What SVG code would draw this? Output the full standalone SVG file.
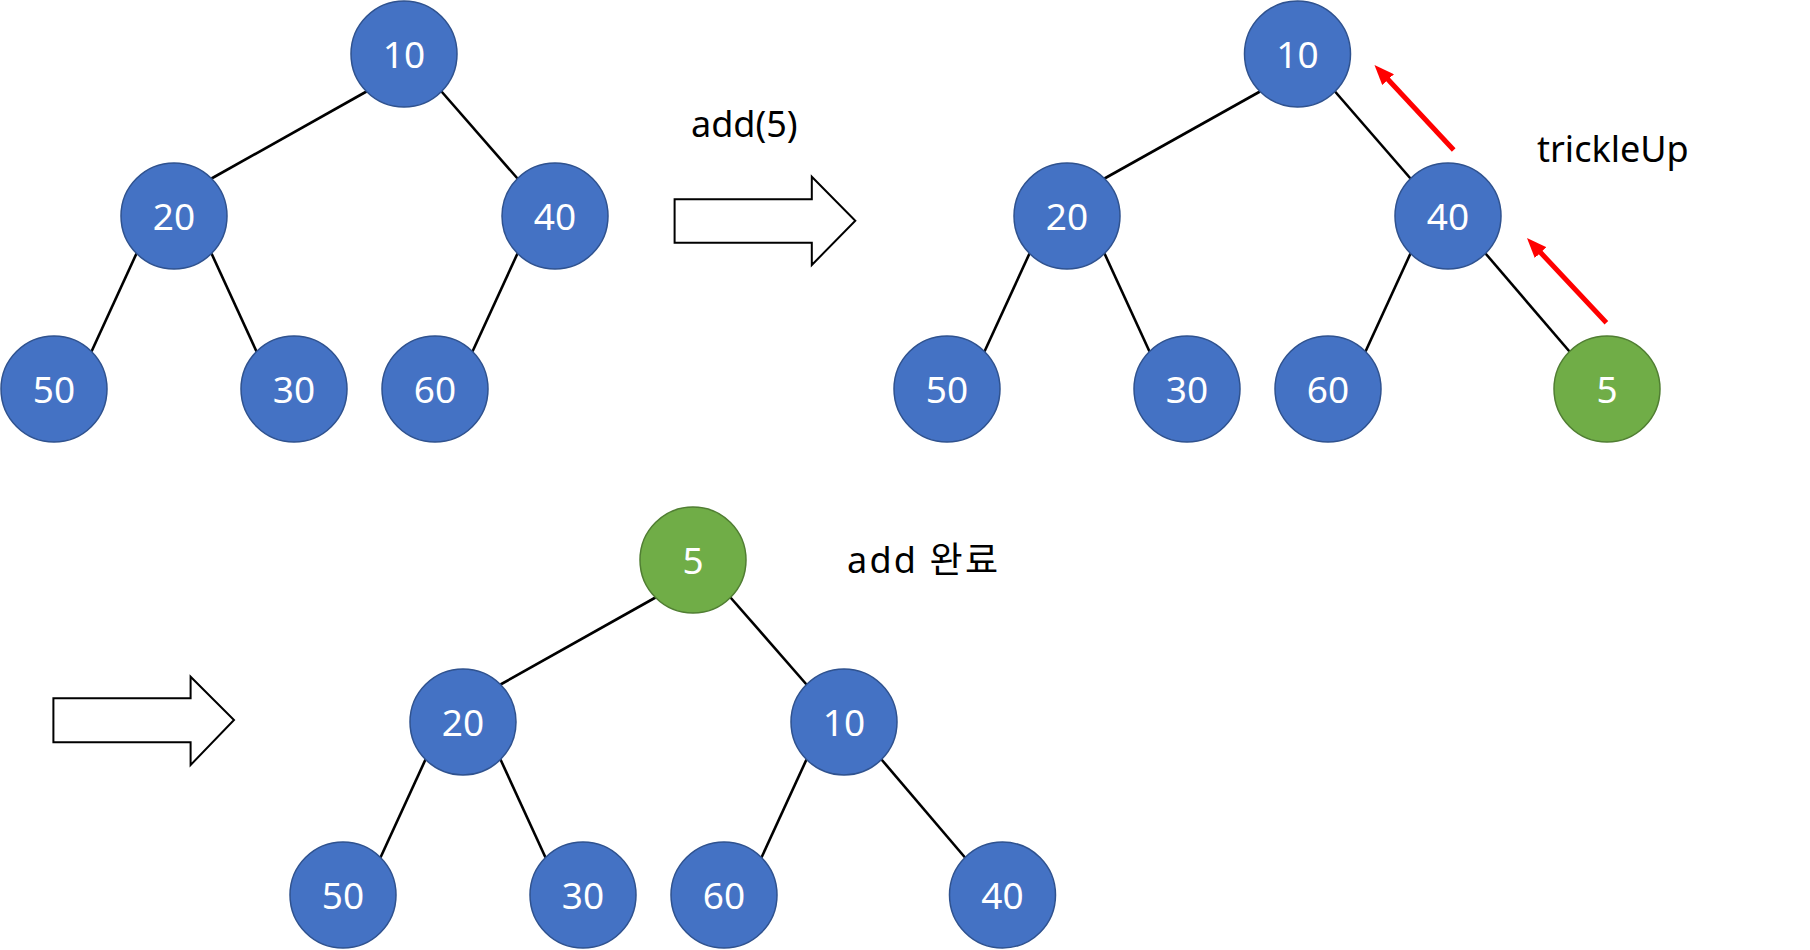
<svg xmlns="http://www.w3.org/2000/svg" width="1810" height="950" viewBox="0 0 1810 950">
<style>
.n{fill:#4472C4;stroke:#2F528F;stroke-width:1.5}
.g{fill:#70AD47;stroke:#507E32;stroke-width:1.5}
.t{fill:#fff;font-family:"Noto Sans","Liberation Sans",sans-serif;font-size:37px;text-anchor:middle}
.e{stroke:#000;stroke-width:2.6;fill:none}
.lbl{fill:#000;font-family:"Noto Sans","Noto Sans CJK KR",sans-serif;font-size:36px}
.ha{fill:#fff;stroke:#000;stroke-width:2}
.ra{stroke:#FF0000;stroke-width:5;fill:none;marker-end:url(#rh)}
</style>
<defs>
<marker id="rh" markerUnits="userSpaceOnUse" viewBox="0 0 20 16" markerWidth="20" markerHeight="16" refX="10" refY="8" orient="auto">
<path d="M0,0 L20,8 L0,16 z" fill="#FF0000"/>
</marker>
</defs>
<rect width="1810" height="950" fill="#fff"/>
<g id="connectors">
<line class="e" x1="366.5" y1="91.5" x2="211.5" y2="178.5"/>
<line class="e" x1="441.5" y1="91.5" x2="517.5" y2="178.5"/>
<line class="e" x1="136.5" y1="253.5" x2="91.5" y2="351.5"/>
<line class="e" x1="211.5" y1="253.5" x2="256.5" y2="351.5"/>
<line class="e" x1="517.5" y1="253.5" x2="472.5" y2="351.5"/>
<line class="e" x1="1260" y1="91.5" x2="1104.5" y2="178.5"/>
<line class="e" x1="1335" y1="91.5" x2="1410.5" y2="178.5"/>
<line class="e" x1="1029.5" y1="253.5" x2="984.5" y2="351.5"/>
<line class="e" x1="1104.5" y1="253.5" x2="1149.5" y2="351.5"/>
<line class="e" x1="1410.5" y1="253.5" x2="1365.5" y2="351.5"/>
<line class="e" x1="1485.5" y1="253.5" x2="1569.5" y2="351.5"/>
<line class="e" x1="655.5" y1="597.5" x2="500.5" y2="684.5"/>
<line class="e" x1="730.5" y1="597.5" x2="806.5" y2="684.5"/>
<line class="e" x1="425.5" y1="759.5" x2="380.5" y2="857.5"/>
<line class="e" x1="500.5" y1="759.5" x2="545.5" y2="857.5"/>
<line class="e" x1="806.5" y1="759.5" x2="761.5" y2="857.5"/>
<line class="e" x1="881.5" y1="759.5" x2="965" y2="857.5"/>
<line class="ra" x1="1453.7" y1="150" x2="1381.3" y2="72.3"/>
<line class="ra" x1="1606.4" y1="322.7" x2="1533.8" y2="245.3"/>
</g>
<g id="arrow-add">
<polygon class="ha" points="674.6,199.3 811.8,199.3 811.8,176.7 855.3,220.7 811.8,265 811.8,242.7 674.6,242.7"/>
</g>
<g id="arrow-done">
<polygon class="ha" points="53.4,698.3 190.6,698.3 190.6,676.7 234,720 190.6,765 190.6,742.3 53.4,742.3"/>
</g>
<g id="label-add5"><text class="lbl" x="691" y="136.5">add(5)</text></g>
<g id="label-trickle"><text class="lbl" x="1537" y="161.5">trickleUp</text></g>
<g id="label-done"><text class="lbl" x="847" y="573" textLength="151" lengthAdjust="spacing">add 완료</text></g>
<g id="t1-10"><circle class="n" cx="404" cy="54" r="53"/><text class="t" x="404" y="67.5">10</text></g>
<g id="t1-20"><circle class="n" cx="174" cy="216" r="53"/><text class="t" x="174" y="229.5">20</text></g>
<g id="t1-40"><circle class="n" cx="555" cy="216" r="53"/><text class="t" x="555" y="229.5">40</text></g>
<g id="t1-50"><circle class="n" cx="54" cy="389" r="53"/><text class="t" x="54" y="402.5">50</text></g>
<g id="t1-30"><circle class="n" cx="294" cy="389" r="53"/><text class="t" x="294" y="402.5">30</text></g>
<g id="t1-60"><circle class="n" cx="435" cy="389" r="53"/><text class="t" x="435" y="402.5">60</text></g>
<g id="t2-10"><circle class="n" cx="1297.5" cy="54" r="53"/><text class="t" x="1297.5" y="67.5">10</text></g>
<g id="t2-20"><circle class="n" cx="1067" cy="216" r="53"/><text class="t" x="1067" y="229.5">20</text></g>
<g id="t2-40"><circle class="n" cx="1448" cy="216" r="53"/><text class="t" x="1448" y="229.5">40</text></g>
<g id="t2-50"><circle class="n" cx="947" cy="389" r="53"/><text class="t" x="947" y="402.5">50</text></g>
<g id="t2-30"><circle class="n" cx="1187" cy="389" r="53"/><text class="t" x="1187" y="402.5">30</text></g>
<g id="t2-60"><circle class="n" cx="1328" cy="389" r="53"/><text class="t" x="1328" y="402.5">60</text></g>
<g id="t2-5"><circle class="g" cx="1607" cy="389" r="53"/><text class="t" x="1607" y="402.5">5</text></g>
<g id="t3-5"><circle class="g" cx="693" cy="560" r="53"/><text class="t" x="693" y="573.5">5</text></g>
<g id="t3-20"><circle class="n" cx="463" cy="722" r="53"/><text class="t" x="463" y="735.5">20</text></g>
<g id="t3-10"><circle class="n" cx="844" cy="722" r="53"/><text class="t" x="844" y="735.5">10</text></g>
<g id="t3-50"><circle class="n" cx="343" cy="895" r="53"/><text class="t" x="343" y="908.5">50</text></g>
<g id="t3-30"><circle class="n" cx="583" cy="895" r="53"/><text class="t" x="583" y="908.5">30</text></g>
<g id="t3-60"><circle class="n" cx="724" cy="895" r="53"/><text class="t" x="724" y="908.5">60</text></g>
<g id="t3-40"><circle class="n" cx="1002.5" cy="895" r="53"/><text class="t" x="1002.5" y="908.5">40</text></g>
</svg>
